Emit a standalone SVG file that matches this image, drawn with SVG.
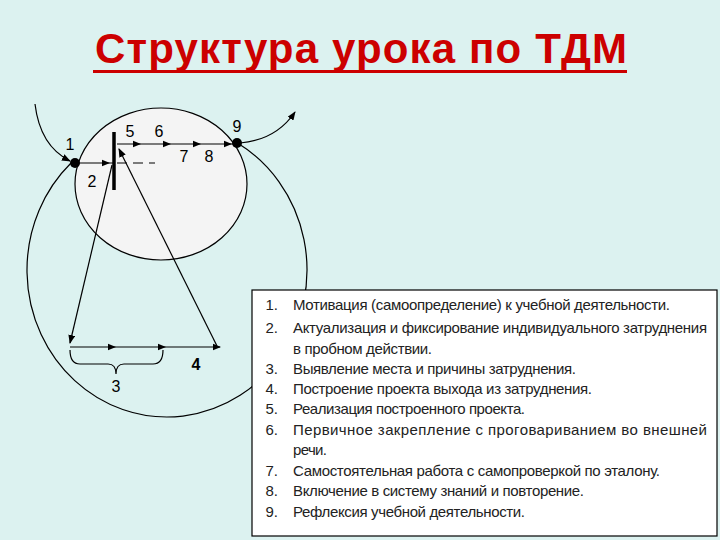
<svg xmlns="http://www.w3.org/2000/svg" width="720" height="540" viewBox="0 0 720 540">
<style>
.ln{fill:none;stroke:#000;stroke-width:1.2}
.lb{font-family:"Liberation Sans",Arial,sans-serif;font-size:16px;fill:#000;text-anchor:middle}
.tx{font-family:"Liberation Sans",Arial,sans-serif;font-size:15px;fill:#222}
.nm{font-family:"Liberation Sans",Arial,sans-serif;font-size:15px;fill:#222;text-anchor:end}
</style>
<defs>
<marker id="arr" markerWidth="9" markerHeight="7" refX="8" refY="3.5" orient="auto" markerUnits="userSpaceOnUse">
<path d="M0,0 L9,3.5 L0,7 z" fill="#000"/>
</marker>
<path id="ah" d="M-8,-3.2 L0,0 L-8,3.2 z" fill="#000"/>
</defs>
<rect width="720" height="540" fill="#dcf2f0"/>
<g id="title">
<text x="95" y="63" textLength="532" font-family="'Liberation Sans',Arial,sans-serif" font-size="42" font-weight="bold" fill="#cc0000">Структура урока по ТДМ</text>
<rect x="93" y="70" width="534" height="3" fill="#cc0000"/>
</g>
<g id="small-circle">
<ellipse cx="161" cy="184" rx="86" ry="76" fill="#f4f4f4" stroke="#000" stroke-width="1.2"/>
</g>
<g id="connectors">
<path class="ln" d="M71,163 A140,147 0 1 0 237.5,143"/>
<path class="ln" d="M35,104 Q40,146 70,161" marker-end="url(#arr)"/>
<path class="ln" d="M240,143 Q276,140 295,112" marker-end="url(#arr)"/>
<line class="ln" x1="75" y1="163" x2="114" y2="163"/>
<use href="#ah" x="110" y="163"/>
<line class="ln" x1="117" y1="163" x2="155" y2="163" stroke-dasharray="10,6"/>
<line class="ln" x1="117" y1="144" x2="237" y2="144"/>
<use href="#ah" x="141" y="144"/>
<use href="#ah" x="171" y="144"/>
<use href="#ah" x="201" y="144"/>
<use href="#ah" x="232" y="144"/>
<line class="ln" x1="112" y1="165" x2="70" y2="343" marker-end="url(#arr)"/>
<line class="ln" x1="217" y1="346" x2="119" y2="149" marker-end="url(#arr)"/>
<line class="ln" x1="70" y1="347" x2="220" y2="347"/>
<use href="#ah" x="116" y="347"/>
<use href="#ah" x="166" y="347"/>
<use href="#ah" x="221" y="347"/>
<path class="ln" d="M70,350 Q70,364 80,364 L108,364 Q116,364 116,374 Q116,364 124,364 L153,364 Q163,364 163,350"/>
</g>
<g id="bar">
<line x1="114" y1="132" x2="114" y2="190" stroke="#000" stroke-width="3.5"/>
</g>
<g id="points">
<circle cx="75" cy="163" r="5" fill="#000"/>
<circle cx="237" cy="143" r="5" fill="#000"/>
</g>
<g id="labels">
<text class="lb" x="70" y="150">1</text>
<text class="lb" x="92" y="187">2</text>
<text class="lb" x="130" y="137">5</text>
<text class="lb" x="159" y="137">6</text>
<text class="lb" x="184" y="162">7</text>
<text class="lb" x="209" y="162">8</text>
<text class="lb" x="237" y="132">9</text>
<text class="lb" x="116" y="392">3</text>
<text class="lb" x="196" y="370" font-weight="bold">4</text>
</g>
<g id="legend">
<rect x="252" y="290" width="465" height="246" fill="#fff" stroke="#000" stroke-width="1.2"/>
<text class="nm" x="278" y="310">1.</text>
<text class="tx" x="293" y="310" textLength="377">Мотивация (самоопределение) к учебной деятельности.</text>
<text class="nm" x="278" y="333">2.</text>
<text class="tx" x="293" y="333" textLength="414">Актуализация и фиксирование индивидуального затруднения</text>
<text class="tx" x="293" y="354" textLength="139">в пробном действии.</text>
<text class="nm" x="278" y="374">3.</text>
<text class="tx" x="293" y="374" textLength="283">Выявление места и причины затруднения.</text>
<text class="nm" x="278" y="394">4.</text>
<text class="tx" x="293" y="394" textLength="299">Построение проекта выхода из затруднения.</text>
<text class="nm" x="278" y="414">5.</text>
<text class="tx" x="293" y="414" textLength="232">Реализация построенного проекта.</text>
<text class="nm" x="278" y="435">6.</text>
<text class="tx" x="293" y="435" textLength="414">Первичное закрепление с проговариванием во внешней</text>
<text class="tx" x="293" y="455" textLength="34">речи.</text>
<text class="nm" x="278" y="476">7.</text>
<text class="tx" x="293" y="476" textLength="367">Самостоятельная работа с самопроверкой по эталону.</text>
<text class="nm" x="278" y="496">8.</text>
<text class="tx" x="293" y="496" textLength="291">Включение в систему знаний и повторение.</text>
<text class="nm" x="278" y="517">9.</text>
<text class="tx" x="293" y="517" textLength="232">Рефлексия учебной деятельности.</text>
</g>
</svg>
